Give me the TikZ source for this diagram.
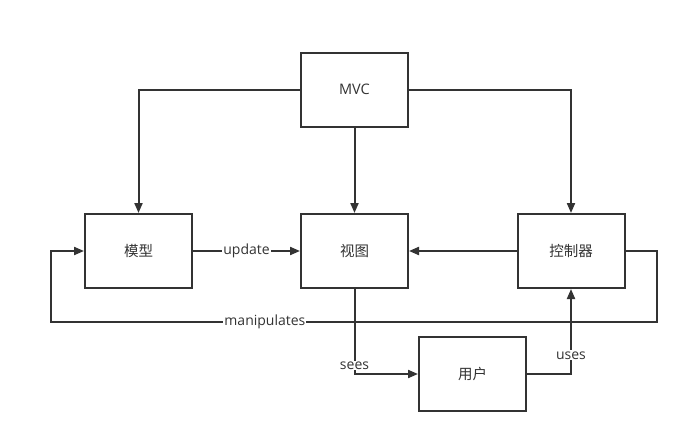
\documentclass[tikz,border=0pt]{standalone}
\usepackage{fontspec}
\setmainfont{Open Sans}
\newfontfamily\cjk{Noto Sans CJK SC}
\usetikzlibrary{arrows.meta, positioning}
\definecolor{linea}{HTML}{333333}
\tikzstyle{caja} = [draw=linea, line width=2pt, rectangle, minimum width=107pt, minimum height=74pt, text=linea, font=\fontsize{14.5}{17}\selectfont]
\tikzstyle{flecha} = [draw=linea, line width=2pt, -{Triangle[length=10pt,width=8pt]}]
\tikzstyle{etiqueta} = [fill=white, text=linea, inner sep=1pt, font=\fontsize{14}{16}\selectfont]

\begin{document}
\begin{tikzpicture}[x=1pt,y=-1pt]
	\useasboundingbox[fill=white] (0,0) rectangle (693,447);
	\node [caja] (mvc) at (354.5,89.5) {MVC};
	\node [caja] (model) at (138.5,251) {\cjk 模型};
	\node [caja] (view) at (354.5,251) {\cjk 视图};
	\node [caja] (ctrl) at (571,251) {\cjk 控制器};
	\node [caja] (user) at (472.5,374) {\cjk 用户};
	\coordinate (loopR) at (657,322);
	\coordinate (loopL) at (51,322);
	% MVC hacia abajo
	\draw[flecha] (mvc.west) -| (model.north);
	\draw[flecha] (mvc) -- (view);
	\draw[flecha] (mvc.east) -| (ctrl.north);
	% fila central
	\draw[flecha] (model) -- node[etiqueta]{update} (view);
	\draw[flecha] (ctrl) -- (view);
	\draw[flecha] (ctrl.east) -| (loopR) -- node[etiqueta, pos=0.647]{manipulates} (loopL) |- (model.west);
	% usuario
	\draw[flecha] (view.south) |- node[etiqueta, pos=0.45]{sees} (user.west);
	\draw[flecha] (user.east) -| node[etiqueta, pos=0.61]{uses} (ctrl.south);
\end{tikzpicture}
\end{document}
